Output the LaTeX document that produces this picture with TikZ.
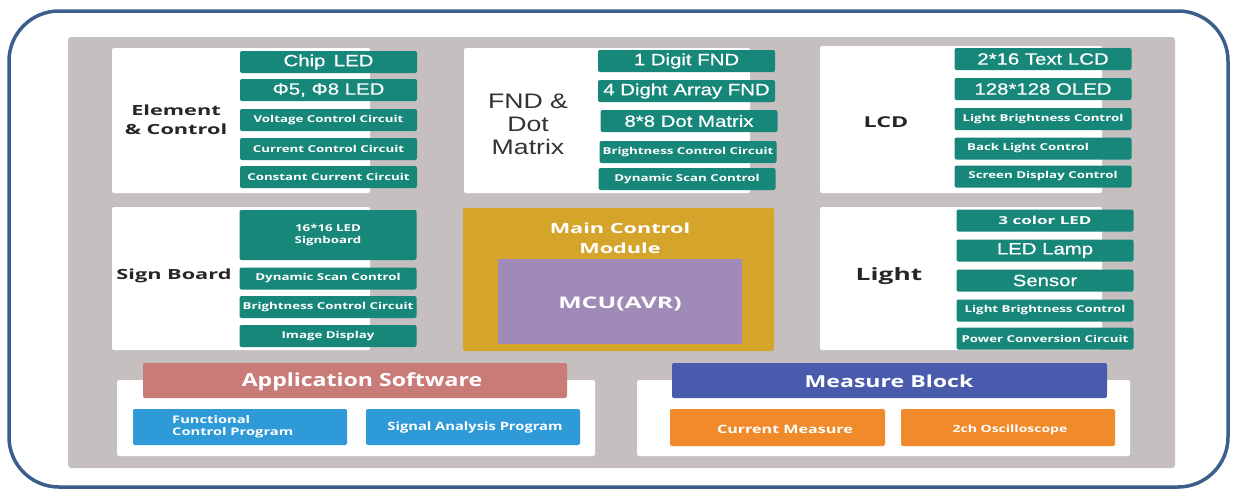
\documentclass[tikz,border=0pt]{standalone}
\usepackage{fontspec}
\setmainfont{Open Sans}
\newfontfamily\osw[FakeStretch=1.4]{Open Sans}
\newfontfamily\osx[FakeStretch=1.55]{Open Sans}
\newfontfamily\osy[FakeStretch=1.28]{Open Sans}
\newfontfamily\arw[FakeStretch=1.25,FakeBold=0.6]{Liberation Sans}
\newfontfamily\arl[FakeStretch=1.27]{Liberation Sans}
\definecolor{frame}{HTML}{3B5E8C}
\definecolor{panel}{HTML}{C5BFC0}
\definecolor{teal}{HTML}{17877A}
\definecolor{gold}{HTML}{D4A52A}
\definecolor{mcu}{HTML}{A08AB8}
\definecolor{salmon}{HTML}{C97B78}
\definecolor{skyblue}{HTML}{2E9AD8}
\definecolor{indigo}{HTML}{4A5BAE}
\definecolor{orng}{HTML}{F08A2A}
\tikzset{
  whitebox/.style={fill=white, rounded corners=2pt},
  tbox/.style={fill=teal, rounded corners=2pt, text=white, inner sep=0pt, minimum height=22pt, minimum width=177pt, align=center},
  big/.style={font=\arw\fontsize{16.3}{18}\selectfont},
  sm/.style={font=\osw\bfseries\fontsize{9.5}{11.5}\selectfont},
  lab/.style={font=\osx\bfseries\fontsize{14}{19}\selectfont, text=black!85, align=center},
  wtext/.style={text=white, align=center, inner sep=0pt},
}
\begin{document}
\begin{tikzpicture}[x=1pt,y=-1pt]
\useasboundingbox (0,0) rectangle (1236,491);
% outer frame
\draw[frame, line width=3.5pt, rounded corners=50pt] (9,11) rectangle (1228,487);
% gray panel
\fill[panel, rounded corners=3pt] (68,37) rectangle (1175,468);

% ---- Element & Control
\fill[whitebox] (112,48) rectangle (370,193);
\node[lab] (ecl) at (176,120) {Element\\\& Control};
\node[tbox,big] (e1) at (328.5,62) {Chip\, LED};
\node[tbox,big] (e2) at (328.5,90) {Φ5, Φ8 LED};
\node[tbox,sm] (e3) at (328.5,120) {Voltage Control Circuit};
\node[tbox,sm] (e4) at (328.5,149) {Current Control Circuit};
\node[tbox,sm] (e5) at (328.5,177) {Constant Current Circuit};

% ---- FND & Dot Matrix
\fill[whitebox] (464,48) rectangle (750,193);
\node[font=\arl\fontsize{21}{23}\selectfont, text=black!80, align=center] (fndl) at (528,124) {FND \&\\Dot\\Matrix};
\node[tbox,big] (f1) at (686.5,61) {1 Digit FND};
\node[tbox,big] (f2) at (686.5,91) {4 Dight Array FND};
\node[tbox,big] (f3) at (689,121) {8*8 Dot Matrix};
\node[tbox,sm] (f4) at (688,152) {Brightness Control Circuit};
\node[tbox,sm] (f5) at (687,179) {Dynamic Scan Control};

% ---- LCD
\fill[whitebox] (820,46) rectangle (1102,193);
\node[lab, font=\osx\bfseries\fontsize{15}{17}\selectfont] (lcdl) at (886,122) {LCD};
\node[tbox,big] (l1) at (1043,59) {2*16 Text LCD};
\node[tbox,big] (l2) at (1043,89) {128*128 OLED};
\node[tbox,sm] (l3) at (1043,119) {Light Brightness Control};
\node[tbox,sm] (l4) at (1043,148.5) {\hspace{-30pt}Back Light Control};
\node[tbox,sm] (l5) at (1043,176.5) {Screen Display Control};

% ---- Sign Board
\fill[whitebox] (112,207) rectangle (370,350);
\node[lab] (sbl) at (174,276) {Sign Board};
\node[tbox,sm,minimum height=50pt] (s1) at (328,235) {16*16 LED\\Signboard};
\node[tbox,sm] (s2) at (328,278.5) {Dynamic Scan Control};
\node[tbox,sm] (s3) at (328,307) {Brightness Control Circuit};
\node[tbox,sm] (s4) at (328,336) {Image Display};

% ---- Main Control Module
\fill[gold, rounded corners=2pt] (463,208) rectangle (774,351);
\node[wtext, font=\osx\bfseries\fontsize{14}{20}\selectfont] (mcm) at (620,238) {Main Control\\Module};
\fill[mcu] (498,259) rectangle (742,344);
\node[wtext, font=\osx\bfseries\fontsize{16}{18}\selectfont] (mcul) at (620,304) {MCU(AVR)};

% ---- Light
\fill[whitebox] (820,207) rectangle (1102,350);
\node[lab, font=\osx\bfseries\fontsize{17}{19}\selectfont] (lil) at (889,276) {Light};
\node[tbox,font=\osx\bfseries\fontsize{11}{13}\selectfont] (g1) at (1045,220.5) {3 color LED};
\node[tbox,big] (g2) at (1045,250.5) {LED Lamp};
\node[tbox,big] (g3) at (1045,280.5) {Sensor};
\node[tbox,sm] (g4) at (1045,310.5) {Light Brightness Control};
\node[tbox,sm] (g5) at (1045,338.5) {Power Conversion Circuit};

% ---- Application Software
\fill[whitebox] (117,380) rectangle (595,456);
\fill[salmon, rounded corners=2pt] (143,363) rectangle (567,398);
\node[wtext, font=\osy\bfseries\fontsize{18}{19}\selectfont] (app) at (362,382) {Application Software};
\fill[skyblue, rounded corners=2pt] (133,409) rectangle (347,445);
\node[wtext, font=\osw\bfseries\fontsize{10.5}{12.5}\selectfont, align=left, anchor=west] (fcp) at (172,427) {Functional\\Control Program};
\fill[skyblue, rounded corners=2pt] (366,409) rectangle (580,445);
\node[wtext, font=\osy\bfseries\fontsize{11.5}{13}\selectfont] (sap) at (475,428) {Signal Analysis Program};

% ---- Measure Block
\fill[whitebox] (637,380) rectangle (1130,456);
\fill[indigo, rounded corners=2pt] (672,363) rectangle (1107,398);
\node[wtext, font=\osw\bfseries\fontsize{16.5}{19}\selectfont] (mb) at (889,381) {Measure Block};
\fill[orng, rounded corners=2pt] (670,409) rectangle (885,446);
\node[wtext, font=\osw\bfseries\fontsize{11.5}{14}\selectfont] (cm) at (785,429) {Current Measure};
\fill[orng, rounded corners=2pt] (901,409) rectangle (1115,446);
\node[wtext, font=\osw\bfseries\fontsize{10}{12}\selectfont] (osc) at (1010,430) {2ch Oscilloscope};
\end{tikzpicture}
\end{document}
